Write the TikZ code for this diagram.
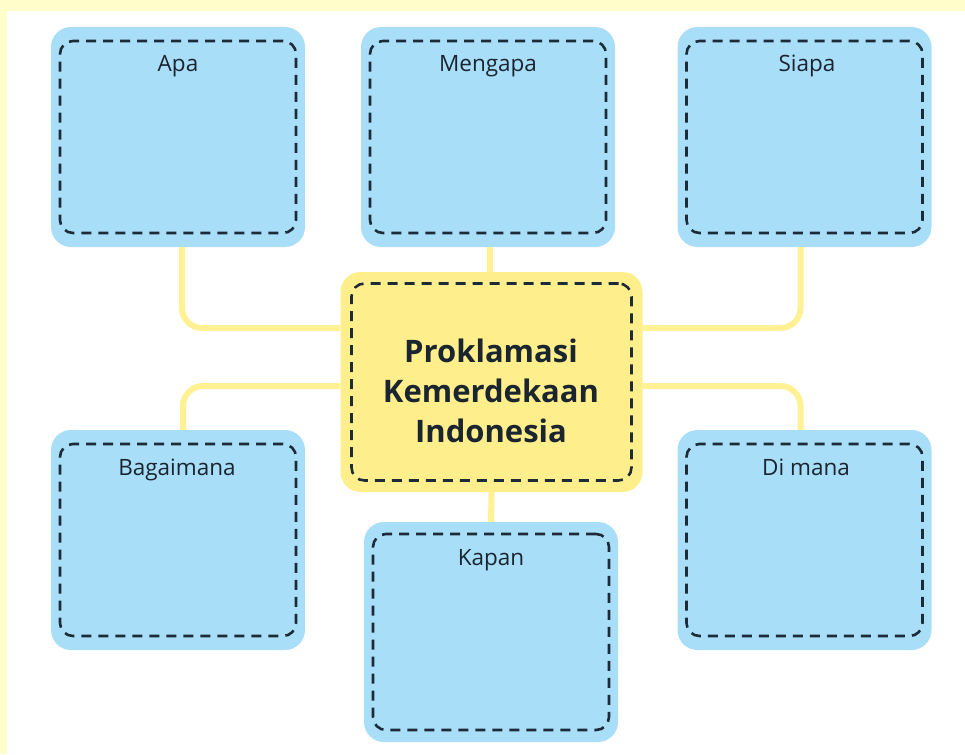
\documentclass[tikz,border=0pt]{standalone}
\usepackage{fontspec}
\setmainfont{Open Sans}
\definecolor{boxblue}{HTML}{A9DEF9}
\definecolor{boxyellow}{HTML}{FFEF8C}
\definecolor{lineyellow}{HTML}{FFF194}
\definecolor{bandyellow}{HTML}{FFFDC9}
\definecolor{dashcol}{HTML}{1C2B38}
\definecolor{txt}{HTML}{1A2530}
\tikzset{
  bluebox/.style={fill=boxblue, rounded corners=20pt, minimum width=254pt, minimum height=220pt, inner sep=0pt},
  centerbox/.style={fill=boxyellow, rounded corners=20pt, minimum width=302pt, minimum height=220pt, inner sep=0pt},
  innerdash/.style={draw=dashcol, line width=2.6pt, dash pattern=on 10pt off 7pt, rounded corners=13pt, inner sep=0pt},
  lbl/.style={text=txt, font=\fontsize{22.5}{26}\selectfont, inner sep=0pt, anchor=base},
  conn/.style={draw=lineyellow, line width=6pt, rounded corners=20pt},
}
\begin{document}
\begin{tikzpicture}[x=1pt,y=-1pt]
\useasboundingbox (0,0) rectangle (965,754);
\fill[white] (0,0) rectangle (965,754);
\fill[bandyellow] (0,0) rectangle (965,11);
\fill[bandyellow] (0,0) rectangle (7,754);
% boxes
\node[bluebox] (apa) at (178,137) {};
\node[bluebox] (mengapa) at (488,137) {};
\node[bluebox] (siapa) at (804.5,137) {};
\node[bluebox] (bagaimana) at (178,540) {};
\node[bluebox] (dimana) at (804.5,540) {};
\node[bluebox] (kapan) at (491,632) {};
\node[centerbox] (center) at (491.5,382) {};
% inner dashed frames
\node[innerdash, minimum width=236pt, minimum height=192pt] (apa-in) at (apa) {};
\node[innerdash, minimum width=236pt, minimum height=192pt] (mengapa-in) at (mengapa) {};
\node[innerdash, minimum width=236pt, minimum height=192pt] (siapa-in) at (siapa) {};
\node[innerdash, minimum width=236pt, minimum height=192pt] (bagaimana-in) at (bagaimana) {};
\node[innerdash, minimum width=236pt, minimum height=192pt] (dimana-in) at (dimana) {};
\node[innerdash, minimum width=236pt, minimum height=196pt] (kapan-in) at (kapan) {};
\node[innerdash, minimum width=280pt, minimum height=197pt] (center-in) at (center) {};
% labels
\node[lbl] (t-apa) at (178,72) {Apa};
\node[lbl] (t-mengapa) at (488,72) {Mengapa};
\node[lbl] (t-siapa) at (807,72) {Siapa};
\node[lbl] (t-bagaimana) at (177,475) {Bagaimana};
\node[lbl] (t-dimana) at (806,475) {Di mana};
\node[lbl] (t-kapan) at (491,565) {Kapan};
\node[text=txt, font=\fontsize{31}{40}\selectfont\bfseries, align=center, inner sep=0pt] (t-center) at (491,391) {Proklamasi\\Kemerdekaan\\Indonesia};
% connectors
\draw[conn] ([xshift=4pt]apa.south) |- ([yshift=54pt]center.west);
\draw[conn] ([xshift=-4pt]siapa.south) |- ([yshift=54pt]center.east);
\draw[conn] ([yshift=-4pt]center.west) -| ([xshift=5pt]bagaimana.north);
\draw[conn] ([yshift=-4pt]center.east) -| ([xshift=-4pt]dimana.north);
\draw[conn] ([xshift=2pt]mengapa.south) -- ([xshift=-1.5pt]center.north);
\draw[conn] (center.south) -- (kapan.north);
\end{tikzpicture}
\end{document}
